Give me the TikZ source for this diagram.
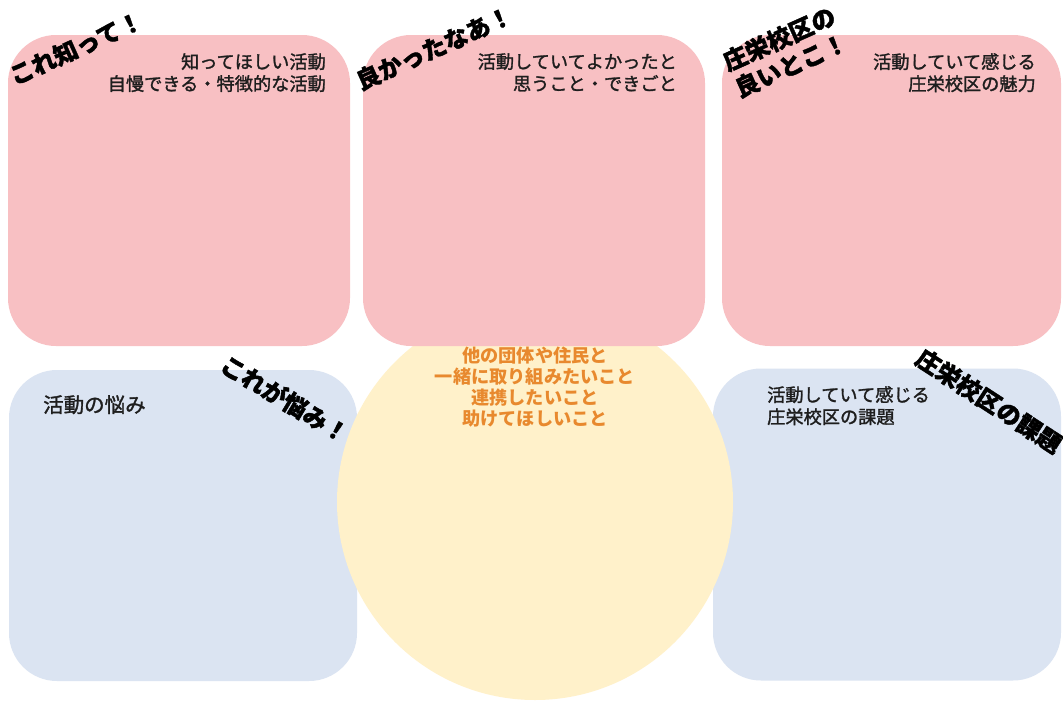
\documentclass[tikz,border=0pt]{standalone}
\usepackage{fontspec}
\newfontfamily\jp{Noto Sans CJK JP}
\newfontfamily\jpmed{Noto Sans CJK JP}[FakeBold=1.5]
\newfontfamily\jpheavy{Noto Sans CJK JP}[FakeBold=1.6]
\definecolor{pinkbox}{HTML}{F8C0C3}
\definecolor{bluebox}{HTML}{DBE4F2}
\definecolor{yellowc}{HTML}{FFF1CA}
\definecolor{orangetxt}{HTML}{E8892E}
\definecolor{boxtxt}{HTML}{1E1E1E}
\tikzset{
  pinkcard/.style={rectangle, rounded corners=48pt, fill=pinkbox, draw=none, inner sep=0pt},
  bluecard/.style={rectangle, rounded corners=48pt, fill=bluebox, draw=none, inner sep=0pt},
  bigcircle/.style={circle, fill=yellowc, draw=none, inner sep=0pt, minimum size=396pt},
  cardtext/.style={inner sep=0pt, text=boxtxt, font=\jpmed\fontsize{18.2}{22}\selectfont},
  circtext/.style={inner sep=0pt, text=orangetxt, align=center, font=\jp\bfseries\fontsize{18.2}{21}\selectfont},
  shout/.style={inner sep=0pt, text=black, font=\jpheavy\bfseries\fontsize{24}{29}\selectfont}
}
\begin{document}
\begin{tikzpicture}[x=1pt,y=-1pt]
\useasboundingbox (0,0) rectangle (1063,705);
\clip (0,0) rectangle (1063,705);
\fill[white] (0,0) rectangle (1063,705);
% lower cards
\node[bluecard, minimum width=348pt, minimum height=311pt] (b1) at (183,525.5) {};
\node[bluecard, minimum width=348pt, minimum height=312pt] (b2) at (887,524.5) {};
% central circle
\node[bigcircle] (c) at (535,502) {};
% upper cards
\node[pinkcard, minimum width=342pt, minimum height=311pt] (p1) at (179,190.5) {};
\node[pinkcard, minimum width=342pt, minimum height=311pt] (p2) at (534,190.5) {};
\node[pinkcard, minimum width=339pt, minimum height=311pt] (p3) at (891.5,190.5) {};
% card texts
\node[cardtext, align=right, anchor=north east] (t1) at (326,53) {知ってほしい活動\\自慢できる・特徴的な活動};
\node[cardtext, align=right, anchor=north east] (t2) at (677,53) {活動していてよかったと\\思うこと・できごと};
\node[cardtext, align=right, anchor=north east] (t3) at (1036,53) {活動していて感じる\\庄栄校区の魅力};
\node[cardtext, align=left, anchor=north west, font=\jpmed\fontsize{20.5}{24}\selectfont] (t4) at (43,395) {活動の悩み};
\node[cardtext, align=left, anchor=north west] (t5) at (767,386) {活動していて感じる\\庄栄校区の課題};
\node[circtext, anchor=north] (tc) at (535,347) {他の団体や住民と\\一緒に取り組みたいこと\\連携したいこと\\助けてほしいこと};
% shout labels
\node[shout, rotate=24] (s1) at (76,48) {これ知って！};
\node[shout, rotate=24] (s2) at (434,48) {良かったなあ！};
\node[shout, rotate=24, align=left] (s3) at (785,52) {庄栄校区の\\良いとこ！};
\node[shout, rotate=-31] (s4) at (285,399) {これが悩み！};
\node[shout, rotate=-33] (s5) at (989,401) {庄栄校区の課題};
\end{tikzpicture}
\end{document}
